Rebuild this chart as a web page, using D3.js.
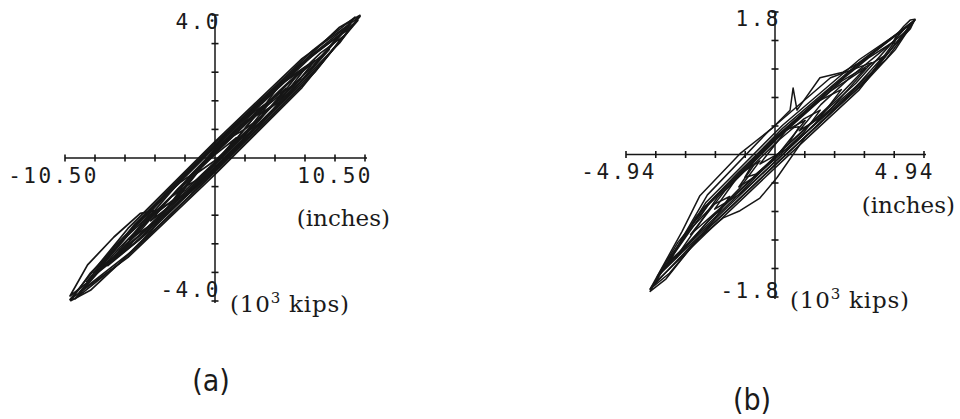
<!DOCTYPE html>
<html>
<head>
<meta charset="utf-8">
<script src="https://cdn.jsdelivr.net/npm/d3@7"></script>
<style>
  html, body { margin: 0; padding: 0; background: #fff; }
  svg { display: block; }
  .num { font-family: "DejaVu Sans Mono", monospace; font-size: 21px; letter-spacing: 2.5px; fill: #1a1a1a; }
  .unit { font-family: "DejaVu Serif", serif; font-size: 23px; fill: #1a1a1a; }
  .kips { letter-spacing: 0.8px; }
  .panel { font-family: "DejaVu Sans", sans-serif; font-stretch: condensed; font-size: 30px; fill: #1a1a1a; }
</style>
</head>
<body>
<svg id="chart" width="960" height="419"></svg>
<script>
// Axis limits and tick positions for each panel
const limitsA = { x: 10.50, y: 4.0 };
const limitsB = { x: 4.94, y: 1.8 };
const xTicksA = [-10.5, -8.4, -6.3, -4.2, -2.1, 2.1, 4.2, 6.3, 8.4, 10.5];
const yTicksA = [-4.0, -3.2, -2.4, -1.6, -0.8, 0.8, 1.6, 2.4, 3.2, 4.0];
const xTicksB = [-4.94, -3.952, -2.964, -1.976, -0.988, 0.988, 1.976, 2.964, 3.952, 4.94];
const yTicksB = [-1.8, -1.44, -1.08, -0.72, -0.36, 0.36, 0.72, 1.08, 1.44, 1.8];

// Panel (a): force (10^3 kips) vs displacement (inches) loops
const loopA1 = [[10.15,3.96],[6.09,2.78],[0,0.46],[-6.09,-1.97],[-10.15,-3.96],[-6.09,-2.78],[0,-0.46],[6.09,1.97]];
const loopA2 = [[9.5,3.76],[5.8,2.57],[0.25,0.45],[-5.3,-1.76],[-9.0,-3.46],[-5.3,-2.28],[0.25,-0.15],[5.8,2.05]];
const loopA3 = [[8.0,3.04],[4.9,2.02],[0.25,0.24],[-4.4,-1.61],[-7.5,-3.01],[-4.4,-1.99],[0.25,-0.20],[4.9,1.64]];
const loopA4 = [[6.5,2.60],[4.0,1.92],[0.25,0.51],[-3.5,-1.00],[-6.0,-2.28],[-3.5,-1.61],[0.25,-0.19],[4.0,1.32]];
const loopA5 = [[5.0,1.95],[3.1,1.37],[0.25,0.28],[-2.6,-0.86],[-4.5,-1.76],[-2.6,-1.17],[0.25,-0.08],[3.1,1.05]];
const loopA6 = [[3.5,1.32],[2.2,1.05],[0.25,0.33],[-1.7,-0.47],[-3.0,-1.22],[-1.7,-0.96],[0.25,-0.23],[2.2,0.56]];
const loopA7 = [[-1.0,-0.29],[-2.5,-0.70],[-4.75,-1.55],[-7.0,-2.46],[-8.5,-3.22],[-7.0,-2.80],[-4.75,-1.95],[-2.5,-1.05]];
const loopA8 = [[9.0,3.41],[7.4,2.94],[5.0,2.03],[2.6,1.07],[1.0,0.29],[2.6,0.76],[5.0,1.67],[7.4,2.63]];
const loopA9 = [[2.0,0.78],[1.2,0.60],[0,0.15],[-1.2,-0.34],[-2.0,-0.78],[-1.2,-0.60],[0,-0.15],[1.2,0.34]];
const loopA10 = [[6.0,2.22],[2.84,1.21],[-1.9,-0.61],[-6.64,-2.49],[-9.8,-3.94],[-6.64,-2.93],[-1.9,-1.11],[2.84,0.77]];
const loopA11 = [[9.8,3.94],[6.84,3.01],[2.4,1.31],[-2.04,-0.46],[-5.0,-1.83],[-2.04,-0.89],[2.4,0.81],[6.84,2.57]];
const loopA12 = [[-4.0,-1.46],[-5.23,-1.55],[-7.075,-2.21],[-8.92,-2.99],[-10.15,-3.86],[-8.92,-3.48],[-7.075,-2.76],[-5.23,-2.04]];
const loopA13 = [[10.0,3.85],[6.1,2.63],[0.25,0.40],[-5.6,-1.93],[-9.5,-3.76],[-5.6,-2.54],[0.25,-0.30],[6.1,2.03]];
const loopA14 = [[4.0,1.64],[1.6,0.97],[-2.0,-0.40],[-5.6,-1.84],[-8.0,-3.04],[-5.6,-2.37],[-2.0,-1.00],[1.6,0.44]];
const loopA15 = [[9.5,3.65],[7.0,2.93],[3.25,1.51],[-0.5,0.01],[-3.0,-1.23],[-0.5,-0.52],[3.25,0.91],[7.0,2.41]];
const loopA16 = [[1.5,0.57],[-0.1,0.06],[-2.5,-0.86],[-4.9,-1.81],[-6.5,-2.56],[-4.9,-2.05],[-2.5,-1.14],[-0.1,-0.18]];
const loopA17 = [[10.15,3.99],[8.72,3.66],[6.575,2.85],[4.43,1.99],[3.0,1.21],[4.43,1.55],[6.575,2.35],[8.72,3.22]];
const loopA18 = [[-3.0,-1.23],[-4.43,-1.54],[-6.575,-2.34],[-8.72,-3.22],[-10.1,-3.99],[-8.72,-3.70],[-6.575,-2.90],[-4.43,-2.03]];
const loopA19 = [[6.0,2.44],[4.5,2.03],[2.25,1.18],[0,0.27],[-1.5,-0.49],[0,-0.07],[2.25,0.78],[4.5,1.68]];
const loopA20 = [[-2.0,-0.78],[-3.0,-1.07],[-4.5,-1.64],[-6.0,-2.24],[-7.0,-2.73],[-6.0,-2.44],[-4.5,-1.88],[-3.0,-1.27]];
const loopA21 = [[7.0,2.73],[6.0,2.44],[4.5,1.88],[3.0,1.27],[2.0,0.78],[3.0,1.07],[4.5,1.64],[6.0,2.24]];
const loopsA = [loopA1, loopA2, loopA3, loopA4, loopA5, loopA6, loopA7, loopA8, loopA9, loopA10, loopA11,
                loopA12, loopA13, loopA14, loopA15, loopA16, loopA17, loopA18, loopA19, loopA20, loopA21];

// Panel (b): force (10^3 kips) vs displacement (inches) loops
const loopB1 = [[4.64,1.70],[2.88,1.19],[0.25,0.33],[-2.38,-0.68],[-4.14,-1.70],[-2.38,-0.99],[0.25,-0.04],[2.88,0.88]];
const loopB2 = [[4.3,1.59],[2.68,1.11],[0.25,0.30],[-2.18,-0.62],[-3.8,-1.50],[-2.18,-0.83],[0.25,0.06],[2.68,0.90]];
const loopB3 = [[3.6,1.24],[2.22,0.93],[0.15,0.24],[-1.92,-0.55],[-3.3,-1.31],[-1.92,-0.83],[0.15,-0.08],[2.22,0.66]];
const loopB4 = [[3.0,1.09],[1.84,0.80],[0.1,0.21],[-1.64,-0.45],[-2.8,-1.01],[-1.64,-0.62],[0.1,0.01],[1.84,0.63]];
const loopB5 = [[2.2,0.82],[1.36,0.66],[0.1,0.24],[-1.16,-0.24],[-2.0,-0.69],[-1.16,-0.50],[0.1,-0.06],[1.36,0.40]];
const loopB6 = [[1.5,0.56],[0.96,0.45],[0.15,0.19],[-0.66,-0.11],[-1.2,-0.41],[-0.66,-0.28],[0.15,-0.01],[0.96,0.28]];
const loopB7 = [[-0.5,-0.08],[-1.18,-0.25],[-2.2,-0.63],[-3.22,-1.11],[-3.9,-1.54],[-3.22,-1.29],[-2.2,-0.83],[-1.18,-0.43]];
const loopB8 = [[4.4,1.57],[3.68,1.35],[2.6,1.01],[1.52,0.63],[0.8,0.30],[1.52,0.47],[2.6,0.83],[3.68,1.20]];
const loopB9 = [[4.64,1.71],[4.49,1.70],[4.27,1.62],[4.05,1.52],[3.9,1.40],[4.05,1.41],[4.27,1.50],[4.49,1.59]];
const loopB10 = [[-4.14,-1.70],[-3.08,-0.97],[-2.49,-0.52],[-1.16,0.01],[-0.07,0.34],[0.50,0.56],[0.60,0.84],[0.73,0.56],
                 [1.49,0.97],[2.25,1.04],[2.98,1.20],[4.64,1.70],[4.0,1.33],[3.0,0.92],[2.0,0.58],[1.0,0.22],
                 [0.07,-0.29],[-0.50,-0.55],[-1.16,-0.71],[-1.72,-0.80],[-2.5,-1.05],[-3.5,-1.50]];
const loopB11 = [[3.2,1.16],[1.84,0.97],[-0.2,0.30],[-2.24,-0.51],[-3.6,-1.40],[-2.24,-0.91],[-0.2,-0.16],[1.84,0.57]];
const loopB12 = [[4.5,1.64],[2.8,1.20],[0.25,0.37],[-2.3,-0.61],[-4.0,-1.63],[-2.3,-1.00],[0.25,-0.08],[2.8,0.82]];
const loopB13 = [[1.0,0.43],[0.1,0.25],[-1.25,-0.24],[-2.6,-0.78],[-3.5,-1.35],[-2.6,-1.02],[-1.25,-0.52],[0.1,0.00]];
const loopB14 = [[4.0,1.44],[3.1,1.22],[1.75,0.80],[0.4,0.32],[-0.5,-0.12],[0.4,0.07],[1.75,0.52],[3.1,0.98]];
const loopB15 = [[-1.5,-0.53],[-2.03,-0.63],[-2.82,-0.95],[-3.61,-1.36],[-4.14,-1.73],[-3.61,-1.57],[-2.82,-1.19],[-2.03,-0.83]];
const loopB16 = [[0.8,0.35],[0.44,0.33],[-0.1,0.17],[-0.64,-0.05],[-1.0,-0.29],[-0.64,-0.25],[-0.1,-0.08],[0.44,0.13]];
const loopsB = [loopB1, loopB2, loopB3, loopB4, loopB5, loopB6, loopB7, loopB8, loopB9, loopB10, loopB11,
                loopB12, loopB13, loopB14, loopB15, loopB16];

const svg = d3.select("#chart");
const ink = "#161616";

function drawPanel(cfg) {
  const x = d3.scaleLinear().domain([-cfg.lim.x, cfg.lim.x]).range(cfg.xr);
  const y = d3.scaleLinear().domain([-cfg.lim.y, cfg.lim.y]).range(cfg.yr);
  const g = svg.append("g");

  // hysteresis loops
  const line = d3.line().x(d => x(d[0])).y(d => y(d[1])).curve(d3.curveLinearClosed);
  g.selectAll("path.loop").data(cfg.loops).join("path")
    .attr("class", "loop")
    .attr("d", line)
    .attr("fill", "none")
    .attr("stroke", ink)
    .attr("stroke-width", cfg.lw)
    .attr("stroke-linejoin", "round");

  // axes crossing at the origin
  g.append("line").attr("x1", x(-cfg.lim.x)).attr("x2", x(cfg.lim.x) + 2)
    .attr("y1", y(0)).attr("y2", y(0)).attr("stroke", ink).attr("stroke-width", 1.5);
  g.append("line").attr("x1", x(0)).attr("x2", x(0))
    .attr("y1", y(cfg.lim.y)).attr("y2", y(-cfg.lim.y) + 2).attr("stroke", ink).attr("stroke-width", 1.5);

  g.selectAll("line.xt").data(cfg.xt).join("line").attr("class", "xt")
    .attr("x1", d => x(d)).attr("x2", d => x(d))
    .attr("y1", y(0) - 3.5).attr("y2", y(0) + 3.5)
    .attr("stroke", ink).attr("stroke-width", 1.6);
  g.selectAll("line.yt").data(cfg.yt).join("line").attr("class", "yt")
    .attr("x1", x(0) - 3.5).attr("x2", x(0) + 3.5)
    .attr("y1", d => y(d)).attr("y2", d => y(d))
    .attr("stroke", ink).attr("stroke-width", 1.6);

  // end labels
  const t = cfg.text;
  g.append("text").attr("class", "num").attr("text-anchor", "end")
    .attr("x", x(0) + 6).attr("y", y(cfg.lim.y) + 14).text(t.yMax);
  g.append("text").attr("class", "num").attr("text-anchor", "end")
    .attr("x", x(0) + 6).attr("y", y(-cfg.lim.y) + t.yMinDy).text(t.yMin);
  g.append("text").attr("class", "num").attr("text-anchor", "end")
    .attr("x", x(-cfg.lim.x) + t.xMinDx).attr("y", y(0) + t.xLabDy).text(t.xMin);
  g.append("text").attr("class", "num").attr("text-anchor", "end")
    .attr("x", x(cfg.lim.x) + t.xMaxDx).attr("y", y(0) + t.xLabDy).text(t.xMax);
  g.append("text").attr("class", "unit").attr("text-anchor", "end")
    .attr("x", t.inchX).attr("y", y(0) + t.inchDy).text("(inches)");
  const kips = g.append("text").attr("class", "unit kips")
    .attr("x", x(0) + 15).attr("y", y(-cfg.lim.y) + t.kipsDy);
  kips.append("tspan").text("(10");
  kips.append("tspan").attr("dy", -9).attr("font-size", 15).text("3");
  kips.append("tspan").attr("dy", 9).text(" kips)");

  g.append("text").attr("class", "panel").attr("text-anchor", "middle")
    .attr("x", t.panelX).attr("y", t.panelY).text(t.panel);
}

drawPanel({
  lim: limitsA, xr: [65, 365], yr: [301, 15], loops: loopsA, xt: xTicksA, yt: yTicksA, lw: 1.7,
  text: { yMax: "4.0", yMin: "-4.0", yMinDy: -4, xMin: "-10.50", xMax: "10.50", xMinDx: 34, xMaxDx: 8, xLabDy: 25,
          inchX: 390, inchDy: 68, kipsDy: 11, panel: "(a)", panelX: 211, panelY: 391 }
});
drawPanel({
  lim: limitsB, xr: [626, 924], yr: [297, 12], loops: loopsB, xt: xTicksB, yt: yTicksB, lw: 1.5,
  text: { yMax: "1.8", yMin: "-1.8", yMinDy: 1, xMin: "-4.94", xMax: "4.94", xMinDx: 31, xMaxDx: 11, xLabDy: 24,
          inchX: 955, inchDy: 58, kipsDy: 11, panel: "(b)", panelX: 752, panelY: 410 }
});
</script>
</body>
</html>
